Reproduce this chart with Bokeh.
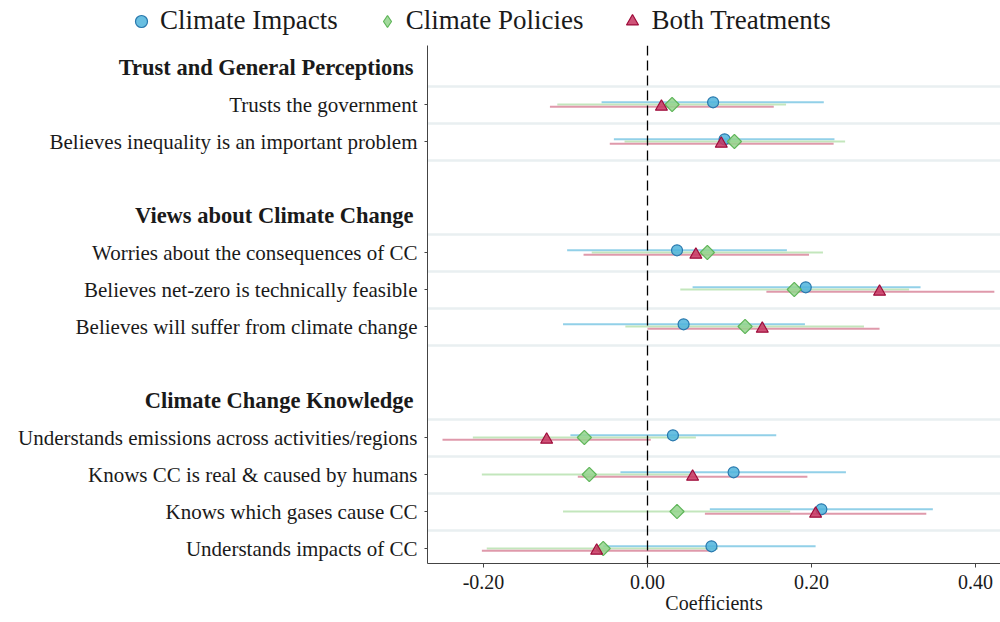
import math
from bokeh.plotting import figure
from bokeh.layouts import column, row
from bokeh.models import (ColumnDataSource, FixedTicker, Span, Legend,
                          LegendItem, NumeralTickFormatter, Range1d)
from bokeh.core.properties import value
from bokeh.embed import file_html
from bokeh.resources import INLINE

# ---------------- data ----------------
headers = ["Trust and General Perceptions", "Views about Climate Change",
           "Climate Change Knowledge"]
outcomes = ["Trusts the government",
            "Believes inequality is an important problem",
            "Worries about the consequences of CC",
            "Believes net-zero is technically feasible",
            "Believes will suffer from climate change",
            "Understands emissions across activities/regions",
            "Knows CC is real & caused by humans",
            "Knows which gases cause CC",
            "Understands impacts of CC"]
outcome_group = [0, 0, 1, 1, 1, 2, 2, 2, 2]

series_names = ["Climate Impacts", "Climate Policies", "Both Treatments"]
impacts_est = [0.080, 0.094, 0.036, 0.193, 0.044, 0.031, 0.105, 0.212, 0.078]
impacts_lo = [-0.056, -0.041, -0.098, 0.055, -0.103, -0.094, -0.033, 0.076, -0.054]
impacts_hi = [0.215, 0.228, 0.170, 0.333, 0.192, 0.157, 0.242, 0.348, 0.205]
policies_est = [0.030, 0.106, 0.073, 0.179, 0.119, -0.077, -0.071, 0.036, -0.054]
policies_lo = [-0.110, -0.028, -0.068, 0.040, -0.027, -0.213, -0.202, -0.103, -0.196]
policies_hi = [0.169, 0.241, 0.214, 0.319, 0.264, 0.059, 0.055, 0.174, 0.086]
both_est = [0.017, 0.090, 0.059, 0.283, 0.140, -0.123, 0.055, 0.205, -0.062]
both_lo = [-0.119, -0.046, -0.078, 0.145, 0.000, -0.250, -0.085, 0.070, -0.202]
both_hi = [0.154, 0.227, 0.197, 0.423, 0.283, 0.004, 0.195, 0.340, 0.077]

x_ticks = [-0.2, 0.0, 0.2, 0.4]

# ---------------- row layout (top to bottom) ----------------
n_rows = len(headers) + len(outcomes) + (len(headers) - 1)
header_pos = []
outcome_pos = []
pos = n_rows
for g, h in enumerate(headers):
    header_pos.append(pos)
    pos -= 1
    for og in outcome_group:
        if og == g:
            outcome_pos.append(pos)
            pos -= 1
    pos -= 1  # blank spacer row

grid_lines = sorted(set([q + 0.5 for q in outcome_pos] + [q - 0.5 for q in outcome_pos]))

FONT = "Liberation Serif"
TXT = "#1a1a1a"
AX = "#444444"
TOTAL_W = 1000
LAB_W = 424
TOP_H = 40
MAIN_H = 582
B_TOP = 5
B_BOT = 59

yr = Range1d(0.595, 14.595)


def style_xaxis(fig, hidden=False):
    ax = fig.xaxis[0]
    ax.major_label_text_font = FONT
    ax.major_label_text_font_size = "20px"
    ax.major_label_text_color = TXT
    ax.major_tick_out = 4
    ax.major_tick_in = 0
    ax.minor_tick_line_color = None
    ax.major_label_standoff = 7
    ax.axis_label = "Coefficients"
    ax.axis_label_text_font = FONT
    ax.axis_label_text_font_size = "20px"
    ax.axis_label_text_font_style = "normal"
    ax.axis_label_text_color = TXT
    ax.axis_label_standoff = 0
    ax.axis_line_color = AX
    ax.major_tick_line_color = AX
    if hidden:
        ax.major_label_text_alpha = 0
        ax.axis_label_text_alpha = 0
        ax.axis_line_color = None
        ax.major_tick_line_color = None


# ---------------- main coefficient panel ----------------
p = figure(width=TOTAL_W - LAB_W, height=MAIN_H, output_backend="svg",
           toolbar_location=None, x_range=Range1d(-0.2683, 0.4305), y_range=yr,
           min_border_left=0, min_border_right=0, min_border_top=B_TOP,
           min_border_bottom=B_BOT)
p.outline_line_color = None
p.xgrid.visible = False
p.ygrid.ticker = FixedTicker(ticks=grid_lines)
p.ygrid.grid_line_color = "#e9eff1"
p.ygrid.grid_line_width = 2.5

p.yaxis.ticker = FixedTicker(ticks=outcome_pos)
p.yaxis.major_label_overrides = {q: "" for q in outcome_pos}
p.yaxis.major_label_standoff = 0
p.yaxis.major_tick_out = 3
p.yaxis.major_tick_in = 0
p.yaxis.minor_tick_line_color = None
p.yaxis.axis_line_color = AX
p.yaxis.major_tick_line_color = AX

p.xaxis.ticker = FixedTicker(ticks=x_ticks)
p.xaxis.formatter = NumeralTickFormatter(format="0.00")
style_xaxis(p)

p.add_layout(Span(location=0, dimension="height", line_color="black",
                  line_dash="10 5", line_width=1.3))

# name, est, lo, hi, offset, marker, size, angle, legend marker, fill, edge, line colour
specs = [
    (series_names[0], impacts_est, impacts_lo, impacts_hi, 0.06, "circle", 11, 0.0,
     "circle", "#4fb4dc", "#2878ad", "#86cbe6"),
    (series_names[1], policies_est, policies_lo, policies_hi, 0.0, "square", 10,
     math.pi / 4, "diamond", "#93d38c", "#5fb559", "#bde3b5"),
    (series_names[2], both_est, both_lo, both_hi, -0.06, "triangle", 12, 0.0,
     "triangle", "#c73560", "#9e0c3a", "#dc8ea2"),
]
for name, est, lo, hi, off, marker, size, ang, lmk, fill, edge, lcol in specs:
    ys = [q + off for q in outcome_pos]
    src = ColumnDataSource(dict(y=ys, lo=lo, hi=hi))
    p.segment(x0="lo", x1="hi", y0="y", y1="y", source=src, line_color=lcol,
              line_width=2, line_alpha=0.9)
for name, est, lo, hi, off, marker, size, ang, lmk, fill, edge, lcol in specs:
    ys = [q + off for q in outcome_pos]
    src = ColumnDataSource(dict(y=ys, est=est))
    p.scatter(x="est", y="y", source=src, marker=marker, size=size, angle=ang,
              fill_color=fill, fill_alpha=0.85, line_color=edge, line_width=1.2)

# ---------------- label panel (left) ----------------
lab = figure(width=LAB_W, height=MAIN_H, output_backend="svg",
             toolbar_location=None, x_range=Range1d(0, 1), y_range=yr,
             min_border_left=0, min_border_right=0, min_border_top=B_TOP,
             min_border_bottom=B_BOT)
lab.outline_line_color = None
lab.grid.visible = False
lab.yaxis.visible = False
lab.xaxis.ticker = FixedTicker(ticks=[0.5])
lab.xaxis.major_label_overrides = {0.5: "0.00"}
style_xaxis(lab, hidden=True)

lab.text(x=[1] * len(outcomes), y=outcome_pos, text=outcomes, x_offset=-7,
         text_align="right", text_baseline="middle", text_font=value(FONT),
         text_font_size="21px", text_color=TXT)
lab.text(x=[1] * len(headers), y=header_pos, text=headers, x_offset=-11,
         text_align="right", text_baseline="middle", text_font=value(FONT),
         text_font_size="22.5px", text_font_style="bold", text_color=TXT)

# ---------------- legend panel (top) ----------------
top = figure(width=TOTAL_W, height=TOP_H, output_backend="svg",
             toolbar_location=None, x_range=Range1d(0, 1), y_range=Range1d(0, 1),
             min_border=0)
top.outline_line_color = None
top.grid.visible = False
top.axis.visible = False
items = []
for name, est, lo, hi, off, marker, size, ang, lmk, fill, edge, lcol in specs:
    r = top.scatter(x=[5], y=[5], marker=lmk, size=size,
                    fill_color=fill, fill_alpha=0.85, line_color=edge,
                    line_width=1.2)
    items.append(LegendItem(label=name, renderers=[r]))
legend = Legend(items=items, orientation="horizontal", location=(126, 4),
                label_text_font=FONT, label_text_font_size="27px",
                label_text_color=TXT, border_line_color=None,
                background_fill_alpha=0, padding=0, margin=0, spacing=34,
                glyph_width=30, glyph_height=30, label_standoff=4)
top.add_layout(legend, "center")

layout = column(top, row(lab, p, spacing=0), spacing=0)
open("out.html", "w").write(file_html(layout, INLINE))
